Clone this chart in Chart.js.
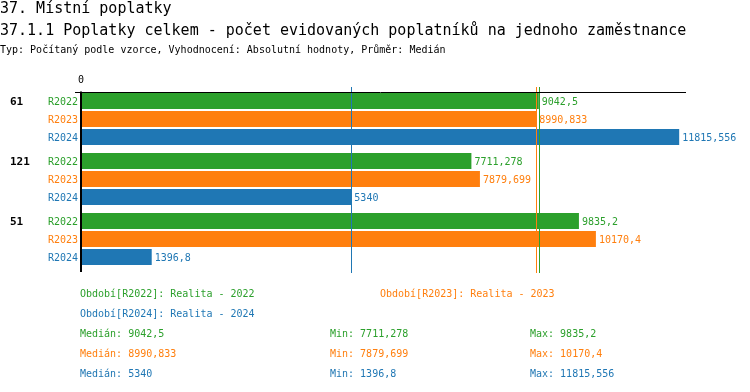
<!DOCTYPE html>
<html>
<head>
<meta charset="utf-8">
<script src="https://cdn.jsdelivr.net/npm/chart.js@4/dist/chart.umd.min.js"></script>
<style>
  html, body { margin: 0; padding: 0; background: #fff; }
  body { width: 750px; height: 392px; position: relative; overflow: hidden; font-family: "DejaVu Sans Mono", "Liberation Mono", monospace; }
  #wrap { position: absolute; left: 0; top: 0; width: 750px; height: 392px; }
  .t { position: absolute; white-space: pre; color: #000; }
  .h { font-size: 15px; line-height: 18px; }
  .s { font-size: 10px; line-height: 14px; }
  .l { font-size: 10px; line-height: 20px; }
</style>
</head>
<body>
<div id="wrap"><canvas id="c" width="750" height="392"></canvas></div>
<div class="t h" id="title1" style="left:0;top:-1px;"></div>
<div class="t h" id="title2" style="left:0;top:21px;"></div>
<div class="t s" id="subtitle" style="left:0;top:43px;"></div>
<div id="legend"></div>
<script>
// ---- data ----
const titleMain = 'Místní poplatky';
const titleNumber = '37.';
const titleSub = '37.1.1 Poplatky celkem - počet evidovaných poplatníků na jednoho zaměstnance';
const subtitleInfo = 'Typ: Počítaný podle vzorce, Vyhodnocení: Absolutní hodnoty, Průměr: Medián';
const categories = ['61', '121', '51'];
const seriesNames = ['R2022', 'R2023', 'R2024'];
const seriesDescriptions = ['Realita - 2022', 'Realita - 2023', 'Realita - 2024'];
const r2022 = [9042.5, 7711.278, 9835.2];
const r2023 = [8990.833, 7879.699, 10170.4];
const r2024 = [11815.556, 5340, 1396.8];
const xTickValues = [0];
const xMax = 11950;
const seriesColors = ['#2ca02c', '#ff7f0e', '#1f77b4'];
const seriesValues = [r2022, r2023, r2024];

// ---- helpers ----
const fmt = v => String(v).replace('.', ',');
const median = arr => { const s = [...arr].sort((a, b) => a - b); const m = Math.floor(s.length / 2); return s.length % 2 ? s[m] : (s[m - 1] + s[m]) / 2; };
const MONO = '"DejaVu Sans Mono", "Liberation Mono", monospace';

document.getElementById('title1').textContent = titleNumber + ' ' + titleMain;
document.getElementById('title2').textContent = titleSub;
document.getElementById('subtitle').textContent = subtitleInfo;

// legend + stats as real text
const legend = document.getElementById('legend');
function addText(txt, left, top, color) {
  const d = document.createElement('div');
  d.className = 't l';
  d.style.left = left + 'px';
  d.style.top = top + 'px';
  d.style.color = color;
  d.textContent = txt;
  legend.appendChild(d);
}
const legendPos = [[80, 284], [380, 284], [80, 304]];
seriesNames.forEach((n, i) => addText('Období[' + n + ']: ' + seriesDescriptions[i], legendPos[i][0], legendPos[i][1], seriesColors[i]));
seriesValues.forEach((vals, i) => {
  const top = 324 + i * 20;
  addText('Medián: ' + fmt(median(vals)), 80, top, seriesColors[i]);
  addText('Min: ' + fmt(Math.min(...vals)), 330, top, seriesColors[i]);
  addText('Max: ' + fmt(Math.max(...vals)), 530, top, seriesColors[i]);
});

// ---- plugins ----
const decorPlugin = {
  id: 'decor',
  afterDatasetsDraw(chart) {
    const ctx = chart.ctx;
    const area = chart.chartArea;
    const xs = chart.scales.x;
    const firstBar = chart.getDatasetMeta(0).data[0];
    const topY = Math.round(firstBar.y - firstBar.height / 2) - 0.5;
    ctx.save();
    // median lines
    seriesValues.forEach((vals, i) => {
      const px = Math.round(xs.getPixelForValue(median(vals))) + 0.5;
      ctx.strokeStyle = seriesColors[i];
      ctx.lineWidth = 1;
      ctx.beginPath();
      ctx.moveTo(px, area.top - 2);
      ctx.lineTo(px, area.bottom + 4);
      ctx.stroke();
    });
    // top axis line
    ctx.strokeStyle = '#000';
    ctx.lineWidth = 1;
    ctx.beginPath();
    ctx.moveTo(area.left - 6, topY);
    ctx.lineTo(area.right, topY);
    ctx.stroke();
    // vertical zero axis
    const x0 = xs.getPixelForValue(0);
    ctx.lineWidth = 2;
    ctx.beginPath();
    ctx.moveTo(x0, topY - 1);
    ctx.lineTo(x0, area.bottom + 3);
    ctx.stroke();
    // labels
    ctx.textBaseline = 'middle';
    chart.data.datasets.forEach((ds, di) => {
      const meta = chart.getDatasetMeta(di);
      meta.data.forEach((bar, idx) => {
        ctx.font = '10px ' + MONO;
        ctx.fillStyle = seriesColors[di];
        ctx.textAlign = 'left';
        ctx.fillText(fmt(ds.data[idx]), bar.x + 3, bar.y + 1);
        ctx.textAlign = 'right';
        ctx.fillText(ds.label, area.left - 3, bar.y + 1);
        if (di === 0) {
          ctx.font = 'bold 11px ' + MONO;
          ctx.fillStyle = '#000';
          ctx.textAlign = 'left';
          ctx.fillText(chart.data.labels[idx], 10, bar.y + 1);
        }
      });
    });
    ctx.restore();
  }
};

new Chart(document.getElementById('c'), {
  type: 'bar',
  data: {
    labels: categories,
    datasets: seriesNames.map((n, i) => ({
      label: n,
      data: seriesValues[i],
      backgroundColor: seriesColors[i],
      borderWidth: 0,
      categoryPercentage: 0.9,
      barPercentage: 16 / 18
    }))
  },
  options: {
    indexAxis: 'y',
    responsive: false,
    animation: false,
    layout: { padding: { left: 81, right: 64, top: 74, bottom: 123 } },
    plugins: { legend: { display: false }, tooltip: { enabled: false }, title: { display: false } },
    scales: {
      x: {
        position: 'top',
        min: 0,
        max: xMax,
        afterBuildTicks: axis => { axis.ticks = xTickValues.map(v => ({ value: v })); },
        afterFit: axis => { axis.height = 15; },
        grid: { display: false, drawTicks: false },
        border: { display: false },
        ticks: { color: '#000', font: { family: MONO, size: 10 }, padding: 3, maxRotation: 0 }
      },
      y: { display: false }
    }
  },
  plugins: [decorPlugin]
});
</script>
</body>
</html>
